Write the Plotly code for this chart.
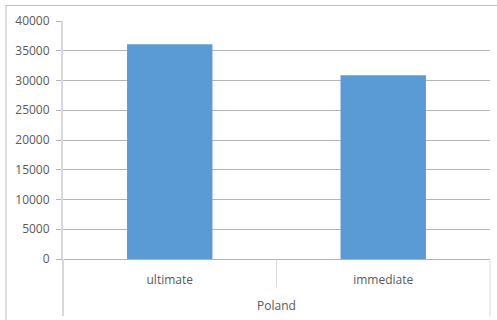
import plotly.graph_objects as go

# Chart data
group_label = "Poland"
categories = ["ultimate", "immediate"]
values = [36100, 30900]
y_ticks = [0, 5000, 10000, 15000, 20000, 25000, 30000, 35000, 40000]

W, H = 497, 320
L, R, T, B = 63, 7, 21, 61
plot_w = W - L - R
plot_h = H - T - B


def px_x(px):
    return (px - L) / plot_w


def px_y(py):
    return (H - B - py) / plot_h


font = dict(family="Open Sans", size=12, color="#595959")
grid = "#B4B4B4"
axis_c = "#D9D9D9"

fig = go.Figure(
    go.Bar(
        x=categories,
        y=values,
        marker=dict(color="#5B9BD5", line=dict(width=0)),
        hoverinfo="x+y",
    )
)

shapes = [
    # chart frame (left, top, right)
    dict(type="line", xref="paper", yref="paper", x0=px_x(6), x1=px_x(6),
         y0=px_y(5), y1=px_y(330), line=dict(color="#BFBFBF", width=1)),
    dict(type="line", xref="paper", yref="paper", x0=px_x(6), x1=px_x(497),
         y0=px_y(5.5), y1=px_y(5.5), line=dict(color="#BFBFBF", width=1)),
    # category-axis extension and dividers
    dict(type="line", xref="paper", yref="paper", x0=0, x1=0,
         y0=0, y1=px_y(316), line=dict(color=axis_c, width=2)),
    dict(type="line", xref="paper", yref="paper", x0=0.5, x1=0.5,
         y0=0, y1=px_y(287), line=dict(color=axis_c, width=1)),
    dict(type="line", xref="paper", yref="paper", x0=1, x1=1,
         y0=0, y1=px_y(316), line=dict(color=axis_c, width=1)),
]

fig.update_layout(
    width=W,
    height=H,
    margin=dict(l=L, r=R, t=T, b=B, pad=0),
    paper_bgcolor="white",
    plot_bgcolor="white",
    font=font,
    bargap=0.6,
    showlegend=False,
    shapes=shapes,
    annotations=[
        dict(text=group_label, xref="paper", yref="paper", x=0.5, y=px_y(305),
             xanchor="center", yanchor="middle", showarrow=False, font=font),
    ],
    xaxis=dict(
        type="category",
        showgrid=False,
        showline=True,
        linecolor=grid,
        linewidth=1,
        ticks="",
        ticklabelstandoff=10,
        tickfont=font,
        fixedrange=True,
    ),
    yaxis=dict(
        range=[0, 40000],
        tickvals=y_ticks,
        ticktext=[str(v) for v in y_ticks],
        showgrid=True,
        gridcolor=grid,
        gridwidth=1,
        showline=True,
        linecolor=axis_c,
        linewidth=2,
        ticks="outside",
        ticklen=5,
        tickcolor=grid,
        ticklabelstandoff=4,
        zeroline=False,
        tickfont=font,
        fixedrange=True,
    ),
)

fig.write_html("out.html")
